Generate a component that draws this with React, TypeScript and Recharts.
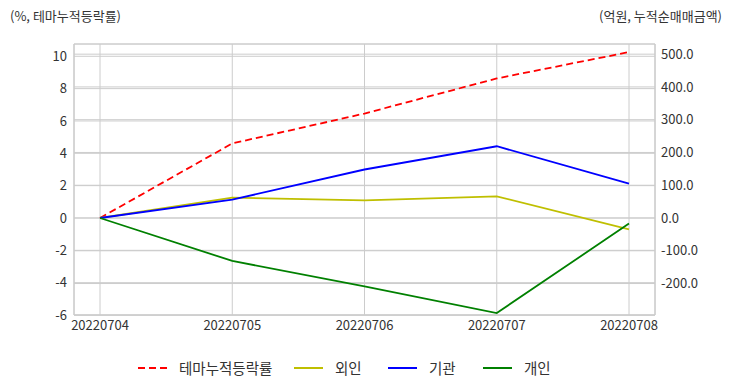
import {
  CartesianGrid,
  Legend,
  Line,
  LineChart,
  XAxis,
  YAxis,
} from "recharts";

const DATES = ["20220704", "20220705", "20220706", "20220707", "20220708"];
const THEME_RATE = [0, 4.61, 6.46, 8.63, 10.26];
const FOREIGN = [0, 62, 54, 66, -35];
const INSTITUTION = [0, 56, 148, 219, 105];
const INDIVIDUAL = [0, -131, -209, -290, -17];

const SERIES_NAMES = ["테마누적등락률", "외인", "기관", "개인"];
const LEFT_TICKS = [-6, -4, -2, 0, 2, 4, 6, 8, 10];
const RIGHT_TICKS = [-200, -100, 0, 100, 200, 300, 400, 500];

const FONT = "'Noto Sans CJK KR', 'Noto Sans', sans-serif";
const TEXT = "#333333";
const GRID = "#cccccc";

const data = DATES.map((d, i) => ({
  date: d,
  theme: THEME_RATE[i],
  foreign: FOREIGN[i],
  inst: INSTITUTION[i],
  indiv: INDIVIDUAL[i],
}));

const LEGEND_WIDTHS = [156, 94, 95, 80];

function ChartLegend({ payload }: any) {
  // keep the legend in the order the series were declared
  const items = SERIES_NAMES.map((n) => (payload || []).find((p: any) => p.value === n)).filter(Boolean);
  return (
    <div style={{ display: "flex", paddingLeft: 138, fontFamily: FONT, fontSize: 14.5, color: TEXT }}>
      {items.map((p: any, i: number) => (
        <div
          key={p.value}
          style={{ display: "flex", alignItems: "center", width: LEGEND_WIDTHS[i], whiteSpace: "nowrap" }}
        >
          <svg width={29} height={10} style={{ marginRight: 12, flexShrink: 0 }}>
            <line
              x1={0}
              x2={29}
              y1={5}
              y2={5}
              stroke={p.color}
              strokeWidth={2}
              strokeDasharray={p.payload?.strokeDasharray}
            />
          </svg>
          <span>{p.value}</span>
        </div>
      ))}
    </div>
  );
}

export default function App() {
  const tick = { fontSize: 13, fill: TEXT, fontFamily: FONT };
  const title = { position: "absolute" as const, top: 6, fontFamily: FONT, fontSize: 13, color: TEXT };
  return (
    <div style={{ position: "absolute", left: 0, top: 0, width: 732, height: 392, background: "#fff" }}>
      <div style={{ ...title, left: 10 }}>(%, 테마누적등락률)</div>
      <div style={{ ...title, right: 10 }}>(억원, 누적순매매금액)</div>
      <LineChart width={732} height={392} data={data} margin={{ top: 44, right: 0, bottom: 0, left: 0 }}>
        <CartesianGrid yAxisId="left" stroke={GRID} strokeWidth={1} />
        <CartesianGrid yAxisId="right" vertical={false} stroke={GRID} strokeWidth={1} />
        <XAxis
          dataKey="date"
          padding={{ left: 26, right: 26 }}
          height={77}
          tickSize={0}
          tickMargin={6}
          tick={tick}
          axisLine={{ stroke: GRID, strokeWidth: 1.25 }}
          interval={0}
        />
        <XAxis
          xAxisId="top"
          dataKey="date"
          orientation="top"
          padding={{ left: 26, right: 26 }}
          height={0}
          tick={false}
          tickLine={false}
          axisLine={{ stroke: GRID, strokeWidth: 1.25 }}
        />
        <YAxis
          yAxisId="left"
          width={74}
          domain={[-6, 10.76]}
          ticks={LEFT_TICKS}
          tickSize={0}
          tickMargin={7}
          tick={tick}
          axisLine={{ stroke: GRID, strokeWidth: 1.25 }}
          allowDataOverflow
        />
        <YAxis
          yAxisId="right"
          orientation="right"
          width={77}
          domain={[-296, 531]}
          ticks={RIGHT_TICKS}
          tickFormatter={(v: number) => v.toFixed(1)}
          tickSize={0}
          tickMargin={6}
          tick={{ ...tick, textAnchor: "start" }}
          axisLine={{ stroke: GRID, strokeWidth: 1.25 }}
          allowDataOverflow
        />
        <Legend
          layout="horizontal"
          verticalAlign="middle"
          align="center"
          wrapperStyle={{ top: 357, left: 0, width: 732 }}
          content={<ChartLegend />}
        />
        <Line
          yAxisId="left"
          dataKey="theme"
          name={SERIES_NAMES[0]}
          stroke="#ff0000"
          strokeWidth={1.8}
          strokeDasharray="7 4"
          dot={false}
          isAnimationActive={false}
        />
        <Line
          yAxisId="right"
          dataKey="foreign"
          name={SERIES_NAMES[1]}
          stroke="#bfbf00"
          strokeWidth={1.8}
          dot={false}
          isAnimationActive={false}
        />
        <Line
          yAxisId="right"
          dataKey="inst"
          name={SERIES_NAMES[2]}
          stroke="#0000ff"
          strokeWidth={1.8}
          dot={false}
          isAnimationActive={false}
        />
        <Line
          yAxisId="right"
          dataKey="indiv"
          name={SERIES_NAMES[3]}
          stroke="#008000"
          strokeWidth={1.8}
          dot={false}
          isAnimationActive={false}
        />
      </LineChart>
    </div>
  );
}
